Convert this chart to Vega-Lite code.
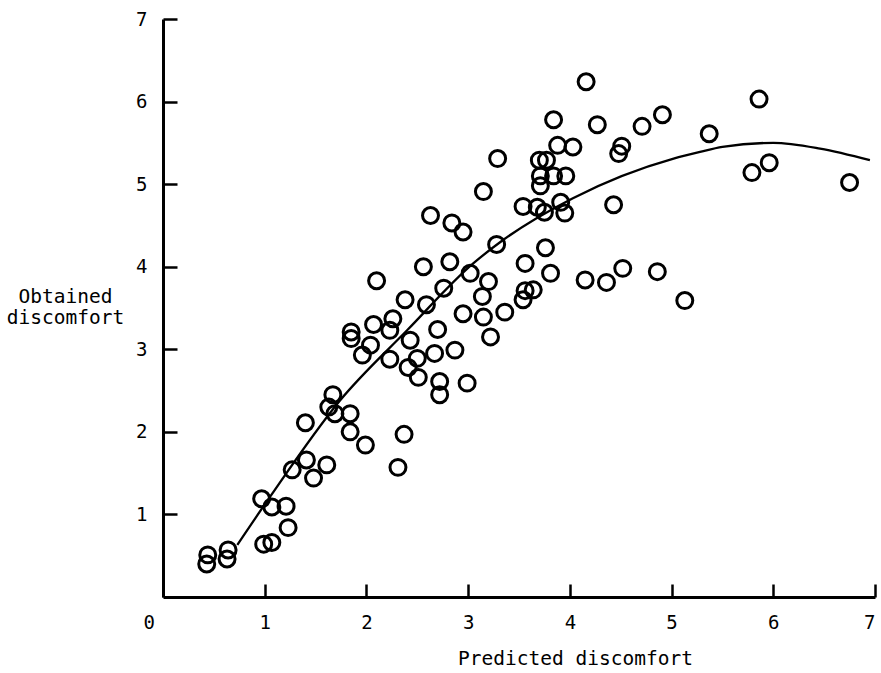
{
  "$schema": "https://vega.github.io/schema/vega-lite/v6.json",
  "width": 712,
  "height": 578,
  "autosize": {"type": "none"},
  "padding": {"left": 163, "top": 19, "right": 6, "bottom": 76},
  "background": "white",
  "config": {"view": {"stroke": null}, "font": "DejaVu Sans Mono"},
  "datasets": {
    "points": [
      {"predicted": 0.44, "obtained": 0.51}, {"predicted": 0.43, "obtained": 0.40},
      {"predicted": 0.64, "obtained": 0.57}, {"predicted": 0.63, "obtained": 0.46},
      {"predicted": 0.97, "obtained": 1.19}, {"predicted": 1.07, "obtained": 1.09},
      {"predicted": 1.21, "obtained": 1.10}, {"predicted": 1.23, "obtained": 0.84},
      {"predicted": 0.99, "obtained": 0.64}, {"predicted": 1.07, "obtained": 0.66},
      {"predicted": 1.27, "obtained": 1.54}, {"predicted": 1.41, "obtained": 1.66},
      {"predicted": 1.61, "obtained": 1.60}, {"predicted": 1.48, "obtained": 1.44},
      {"predicted": 1.40, "obtained": 2.11}, {"predicted": 1.67, "obtained": 2.45},
      {"predicted": 1.63, "obtained": 2.30}, {"predicted": 1.69, "obtained": 2.22},
      {"predicted": 1.84, "obtained": 2.22}, {"predicted": 1.84, "obtained": 2.00},
      {"predicted": 1.99, "obtained": 1.84}, {"predicted": 2.37, "obtained": 1.97},
      {"predicted": 2.31, "obtained": 1.57},
      {"predicted": 2.10, "obtained": 3.83}, {"predicted": 2.56, "obtained": 4.00},
      {"predicted": 2.82, "obtained": 4.06}, {"predicted": 3.02, "obtained": 3.92},
      {"predicted": 3.20, "obtained": 3.82}, {"predicted": 3.14, "obtained": 3.64},
      {"predicted": 3.56, "obtained": 4.04}, {"predicted": 2.76, "obtained": 3.74},
      {"predicted": 2.38, "obtained": 3.60}, {"predicted": 2.59, "obtained": 3.54},
      {"predicted": 2.26, "obtained": 3.37}, {"predicted": 2.07, "obtained": 3.30},
      {"predicted": 2.23, "obtained": 3.23}, {"predicted": 1.85, "obtained": 3.21},
      {"predicted": 1.85, "obtained": 3.13}, {"predicted": 2.04, "obtained": 3.05},
      {"predicted": 1.96, "obtained": 2.93}, {"predicted": 2.70, "obtained": 3.24},
      {"predicted": 2.95, "obtained": 3.43}, {"predicted": 3.15, "obtained": 3.39},
      {"predicted": 3.36, "obtained": 3.45}, {"predicted": 3.54, "obtained": 3.60},
      {"predicted": 3.56, "obtained": 3.71}, {"predicted": 3.64, "obtained": 3.72},
      {"predicted": 3.22, "obtained": 3.15}, {"predicted": 2.87, "obtained": 2.99},
      {"predicted": 2.67, "obtained": 2.95}, {"predicted": 2.43, "obtained": 3.11},
      {"predicted": 2.23, "obtained": 2.88}, {"predicted": 2.50, "obtained": 2.89},
      {"predicted": 2.41, "obtained": 2.78}, {"predicted": 2.51, "obtained": 2.66},
      {"predicted": 2.72, "obtained": 2.61}, {"predicted": 2.72, "obtained": 2.45},
      {"predicted": 2.99, "obtained": 2.59},
      {"predicted": 2.63, "obtained": 4.62}, {"predicted": 2.84, "obtained": 4.53},
      {"predicted": 2.95, "obtained": 4.42}, {"predicted": 3.28, "obtained": 4.27},
      {"predicted": 3.15, "obtained": 4.91}, {"predicted": 3.29, "obtained": 5.31},
      {"predicted": 3.76, "obtained": 4.23}, {"predicted": 3.81, "obtained": 3.92},
      {"predicted": 3.54, "obtained": 4.73}, {"predicted": 3.68, "obtained": 4.72},
      {"predicted": 3.75, "obtained": 4.66}, {"predicted": 3.91, "obtained": 4.78},
      {"predicted": 3.95, "obtained": 4.65}, {"predicted": 3.71, "obtained": 4.98},
      {"predicted": 3.71, "obtained": 5.10}, {"predicted": 3.84, "obtained": 5.10},
      {"predicted": 3.96, "obtained": 5.10}, {"predicted": 3.70, "obtained": 5.29},
      {"predicted": 3.77, "obtained": 5.29}, {"predicted": 3.88, "obtained": 5.47},
      {"predicted": 4.03, "obtained": 5.45}, {"predicted": 3.84, "obtained": 5.78},
      {"predicted": 4.16, "obtained": 6.24}, {"predicted": 4.27, "obtained": 5.72},
      {"predicted": 4.71, "obtained": 5.70}, {"predicted": 4.91, "obtained": 5.84},
      {"predicted": 4.48, "obtained": 5.37}, {"predicted": 4.51, "obtained": 5.46},
      {"predicted": 4.43, "obtained": 4.75}, {"predicted": 4.15, "obtained": 3.84},
      {"predicted": 4.36, "obtained": 3.81}, {"predicted": 4.52, "obtained": 3.98},
      {"predicted": 4.86, "obtained": 3.94}, {"predicted": 5.13, "obtained": 3.59},
      {"predicted": 5.37, "obtained": 5.61}, {"predicted": 5.86, "obtained": 6.03},
      {"predicted": 5.96, "obtained": 5.26}, {"predicted": 5.79, "obtained": 5.14},
      {"predicted": 6.75, "obtained": 5.02}
    ],
    "curve": [
      {"predicted": 0.73, "obtained": 0.63}, {"predicted": 1.05, "obtained": 1.21},
      {"predicted": 1.74, "obtained": 2.38}, {"predicted": 2.40, "obtained": 3.23},
      {"predicted": 3.05, "obtained": 4.04}, {"predicted": 3.34, "obtained": 4.32},
      {"predicted": 4.03, "obtained": 4.83}, {"predicted": 5.02, "obtained": 5.31},
      {"predicted": 5.28, "obtained": 5.39}, {"predicted": 5.50, "obtained": 5.45},
      {"predicted": 6.00, "obtained": 5.50}, {"predicted": 6.46, "obtained": 5.43},
      {"predicted": 6.95, "obtained": 5.29}
    ]
  },
  "layer": [
    {
      "data": {"name": "points"},
      "mark": {"type": "point", "shape": "circle", "filled": false, "stroke": "black", "strokeWidth": 3, "size": 255, "opacity": 1},
      "encoding": {
        "x": {
          "field": "predicted", "type": "quantitative",
          "scale": {"domain": [0, 7], "nice": false, "zero": false},
          "axis": {
            "values": [0, 1, 2, 3, 4, 5, 6, 7], "format": "d", "grid": false,
            "domainColor": "black", "domainWidth": 3,
            "tickColor": "black", "tickWidth": 2.5, "tickSize": -13,
            "labelFontSize": 19, "labelColor": "black", "labelPadding": 29,
            "labelOffset": {"condition": {"test": "datum.value == 0", "value": -20}, "value": 0},
            "title": "Predicted discomfort", "titleFontSize": 19.5, "titleFontWeight": "normal",
            "titleColor": "black", "titleX": 412, "titleY": 67, "titleAlign": "center", "titleBaseline": "alphabetic"
          }
        },
        "y": {
          "field": "obtained", "type": "quantitative",
          "scale": {"domain": [0, 7], "nice": false, "zero": false},
          "axis": {
            "values": [1, 2, 3, 4, 5, 6, 7], "format": "d", "grid": false,
            "domainColor": "black", "domainWidth": 3,
            "tickColor": "black", "tickWidth": 2.5, "tickSize": -14,
            "labelFontSize": 19, "labelColor": "black", "labelPadding": 30,
            "title": ["Obtained", "discomfort"], "titleFontSize": 19.5, "titleFontWeight": "normal",
            "titleColor": "black", "titleAngle": 0, "titleX": -98, "titleY": 277,
            "titleAlign": "center", "titleBaseline": "middle", "titleLineHeight": 21
          }
        }
      }
    },
    {
      "data": {"name": "curve"},
      "mark": {"type": "line", "color": "black", "strokeWidth": 2.3, "interpolate": "monotone"},
      "encoding": {
        "x": {"field": "predicted", "type": "quantitative"},
        "y": {"field": "obtained", "type": "quantitative"}
      }
    }
  ]
}
